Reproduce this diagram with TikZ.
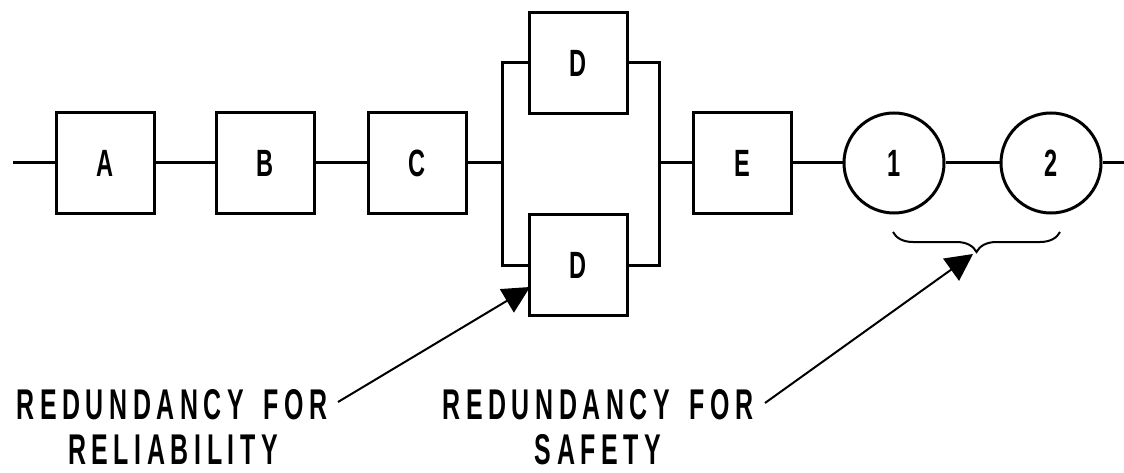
\documentclass[tikz,border=0pt]{standalone}
\usepackage{fontspec}
\usepackage{tikz}
\usetikzlibrary{arrows.meta}
\usetikzlibrary{decorations.pathreplacing}
\newfontfamily\leroy[FakeStretch=0.58,LetterSpace=13]{Liberation Sans Bold}
\newfontfamily\leroybox[FakeStretch=0.62]{Liberation Sans Bold}
\tikzstyle{blk} = [rectangle, draw, line width=3pt, minimum width=98pt,
    minimum height=101pt, font=\leroybox\fontsize{38}{40}\selectfont]
\tikzstyle{sfty} = [circle, draw, line width=3pt, minimum size=100pt,
    font=\leroybox\fontsize{38}{40}\selectfont]
\tikzstyle{note} = [anchor=base, inner sep=0pt,
    font=\leroy\fontsize{43}{45}\selectfont]
\tikzstyle{ptr} = [-{Triangle[length=27pt,width=27pt]}, line width=2pt]
\tikzstyle{brc} = [decorate, decoration={brace, mirror, amplitude=20pt},
    line width=2pt]

\begin{document}
\begin{tikzpicture}[x=1pt,y=-1pt,line width=3pt]
  \useasboundingbox (0,0) rectangle (1124,473);

  \node[blk]  (A)  at (105,163) {A};
  \node[blk]  (B)  at (265,163) {B};
  \node[blk]  (C)  at (417,163) {C};
  \node[blk]  (D1) at (578,63)  {D};
  \node[blk]  (D2) at (578,265) {D};
  \node[blk]  (E)  at (742,163) {E};
  \node[sfty] (1)  at (894,163) {1};
  \node[sfty] (2)  at (1051,163) {2};

  \coordinate (in)  at (13,163);
  \coordinate (out) at (1124,163);
  \coordinate (sl)  at (502,163);
  \coordinate (sr)  at (659,163);

  \path (in) edge (A)
        (A) edge (B)
        (B) edge (C)
        (C) edge (sl)
        (sr) edge (E)
        (E) edge (1)
        (1) edge (2)
        (2) edge (out);
  \draw (D1.west) -| (sl) |- (D2.west);
  \draw (D1.east) -| (sr) |- (D2.east);

  % the two pairs
  \coordinate (bl) at (893,232);
  \coordinate (br) at (1060,232);
  \draw[brc] (bl) -- (br);

  \node[note] (rel1) at (172,419) {REDUNDANCY\hspace{7pt} FOR};
  \node[note] (rel2) at (173,464) {RELIABILITY};
  \node[note] (sft1) at (598,419) {REDUNDANCY\hspace{7pt} FOR};
  \node[note] (sft2) at (598,464) {SAFETY};

  \coordinate (relTail) at (338,402);
  \coordinate (relTip)  at (530,287);
  \coordinate (sftTail) at (765,403);
  \coordinate (sftTip)  at (973,254);
  \draw[ptr] (relTail) -- (relTip);
  \draw[ptr] (sftTail) -- (sftTip);
\end{tikzpicture}
\end{document}
